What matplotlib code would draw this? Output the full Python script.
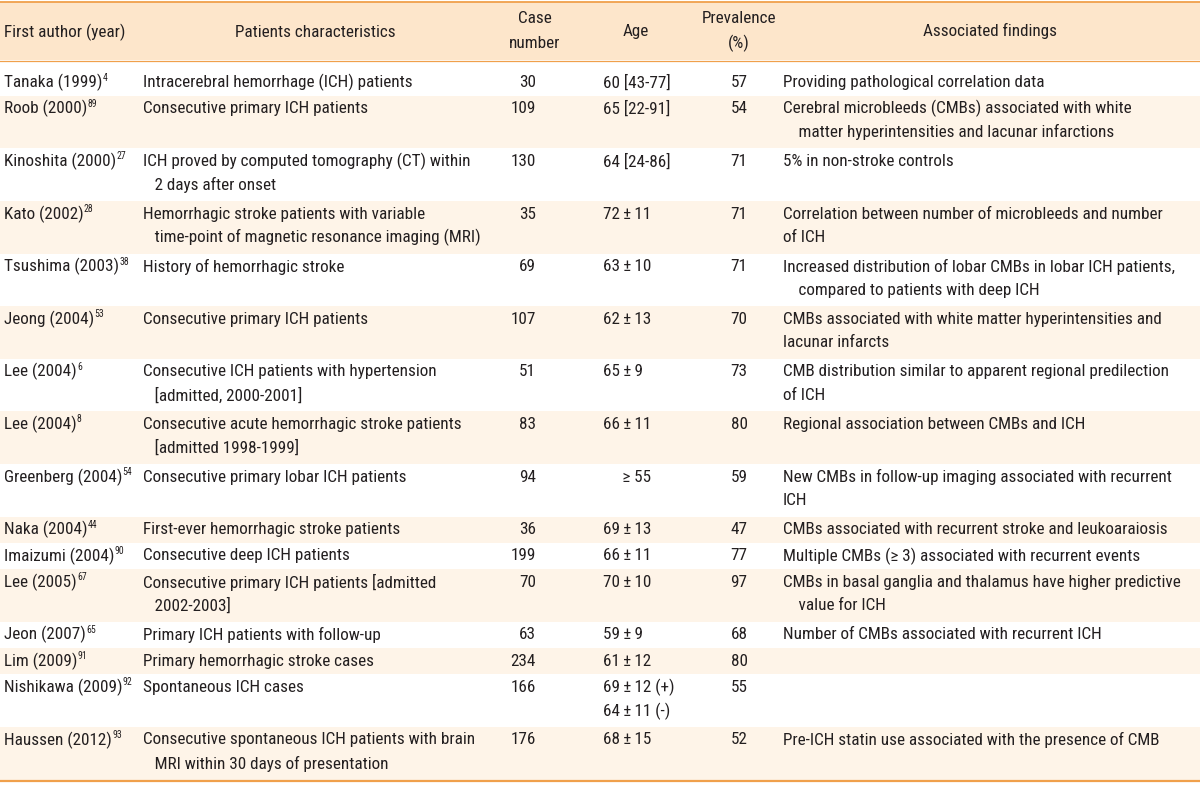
import matplotlib
matplotlib.use('Agg')
import matplotlib.pyplot as plt
from matplotlib.patches import Rectangle

plt.rcParams['font.family'] = ['Roboto Condensed', 'DejaVu Sans']
plt.rcParams['font.weight'] = 'normal'

# table content
authors = ['Tanaka (1999)', 'Roob (2000)', 'Kinoshita (2000)', 'Kato (2002)',
           'Tsushima (2003)', 'Jeong (2004)', 'Lee (2004)', 'Lee (2004)',
           'Greenberg (2004)', 'Naka (2004)', 'Imaizumi (2004)', 'Lee (2005)',
           'Jeon (2007)', 'Lim (2009)', 'Nishikawa (2009)', 'Haussen (2012)']
refs = ['4', '89', '27', '28', '38', '53', '6', '8', '54', '44', '90', '67',
        '65', '91', '92', '93']
characteristics = [
    'Intracerebral hemorrhage (ICH) patients',
    'Consecutive primary ICH patients',
    'ICH proved by computed tomography (CT) within\n   2 days after onset',
    'Hemorrhagic stroke patients with variable\n   time-point of magnetic resonance imaging (MRI)',
    'History of hemorrhagic stroke',
    'Consecutive primary ICH patients',
    'Consecutive ICH patients with hypertension\n   [admitted, 2000-2001]',
    'Consecutive acute hemorrhagic stroke patients\n   [admitted 1998-1999]',
    'Consecutive primary lobar ICH patients',
    'First-ever hemorrhagic stroke patients',
    'Consecutive deep ICH patients',
    'Consecutive primary ICH patients [admitted\n   2002-2003]',
    'Primary ICH patients with follow-up',
    'Primary hemorrhagic stroke cases',
    'Spontaneous ICH cases',
    'Consecutive spontaneous ICH patients with brain\n   MRI within 30 days of presentation',
]
case_numbers = [30, 109, 130, 35, 69, 107, 51, 83, 94, 36, 199, 70, 63, 234, 166, 176]
pm = '\u2009±\u2009'
ages = ['60 [43-77]', '65 [22-91]', '64 [24-86]', '72' + pm + '11', '63' + pm + '10',
        '62' + pm + '13', '65' + pm + '9', '66' + pm + '11', '     ≥ 55', '69' + pm + '13',
        '66' + pm + '11', '70' + pm + '10', '59' + pm + '9', '61' + pm + '12',
        '69' + pm + '12 (+)\n64' + pm + '11 (-)', '68' + pm + '15']
prevalence = [57, 54, 71, 71, 71, 70, 73, 80, 59, 47, 77, 97, 68, 80, 55, 52]
findings = [
    'Providing pathological correlation data',
    'Cerebral microbleeds (CMBs) associated with white\n    matter hyperintensities and lacunar infarctions',
    '5% in non-stroke controls',
    'Correlation between number of microbleeds and number\nof ICH',
    'Increased distribution of lobar CMBs in lobar ICH patients,\n    compared to patients with deep ICH',
    'CMBs associated with white matter hyperintensities and\nlacunar infarcts',
    'CMB distribution similar to apparent regional predilection\nof ICH',
    'Regional association between CMBs and ICH',
    'New CMBs in follow-up imaging associated with recurrent\nICH',
    'CMBs associated with recurrent stroke and leukoaraiosis',
    'Multiple CMBs (≥ 3) associated with recurrent events',
    'CMBs in basal ganglia and thalamus have higher predictive\n    value for ICH',
    'Number of CMBs associated with recurrent ICH',
    '',
    '',
    'Pre-ICH statin use associated with the presence of CMB',
]

header_bg = '#fde6cb'
stripe_bg = '#fef4e8'
rule_color = '#f0a04b'
text_color = '#231f20'
fs = 12.3

fig = plt.figure(figsize=(12, 7.89), dpi=100)
ax = fig.add_axes([0, 0, 1, 1])
ax.set_xlim(0, 1200)
ax.set_ylim(789, 0)
ax.axis('off')

# header
ax.add_patch(Rectangle((0, 2), 1200, 58, color=header_bg, lw=0))
ax.axhline(1.5, color=rule_color, lw=1.3)
ax.axhline(60.5, color=rule_color, lw=0.9)
ax.text(4, 32, 'First author (year)', ha='left', va='center', fontsize=fs, color=text_color)
ax.text(315, 32, 'Patients characteristics', ha='center', va='center', fontsize=fs, color=text_color)
ax.text(535, 18, 'Case', ha='center', va='center', fontsize=fs, color=text_color)
ax.text(535, 43, 'number', ha='center', va='center', fontsize=fs, color=text_color)
ax.text(636, 31, 'Age', ha='center', va='center', fontsize=fs, color=text_color)
ax.text(739, 18, 'Prevalence', ha='center', va='center', fontsize=fs, color=text_color)
ax.text(739, 43, '(%)', ha='center', va='center', fontsize=fs, color=text_color)
ax.text(990, 31, 'Associated findings', ha='center', va='center', fontsize=fs, color=text_color)

line_step = 26.3
line_gap = 23.5
renderer = fig.canvas.get_renderer()


def draw_lines(x, y0, s, ha='left'):
    for k, line in enumerate(s.split('\n')):
        ax.text(x, y0 + k * line_gap, line, ha=ha, va='center', fontsize=fs, color=text_color)


y_top = 60.5
for i in range(len(authors)):
    n = max(s.count('\n') + 1 for s in [characteristics[i], ages[i], findings[i]])
    pad = 9 if i == 0 else 0
    h = n * line_step + pad
    if i % 2 == 1:
        ax.add_patch(Rectangle((0, y_top), 1200, h, color=stripe_bg, lw=0))
    y0 = y_top + pad + 13
    t = ax.text(4, y0, authors[i], ha='left', va='center', fontsize=fs, color=text_color)
    bb = t.get_window_extent(renderer)
    xr = ax.transData.inverted().transform((bb.x1, bb.y1))[0]
    ax.text(xr + 0.3, y0 - 5, refs[i], ha='left', va='center', fontsize=7, color=text_color)
    draw_lines(143, y0, characteristics[i])
    draw_lines(536, y0, str(case_numbers[i]), ha='right')
    draw_lines(603, y0, ages[i])
    draw_lines(739, y0, str(prevalence[i]), ha='center')
    draw_lines(783, y0, findings[i])
    y_top += h

ax.axhline(y_top + 1, color=rule_color, lw=1.6)

fig.savefig('out.png', dpi=100)
